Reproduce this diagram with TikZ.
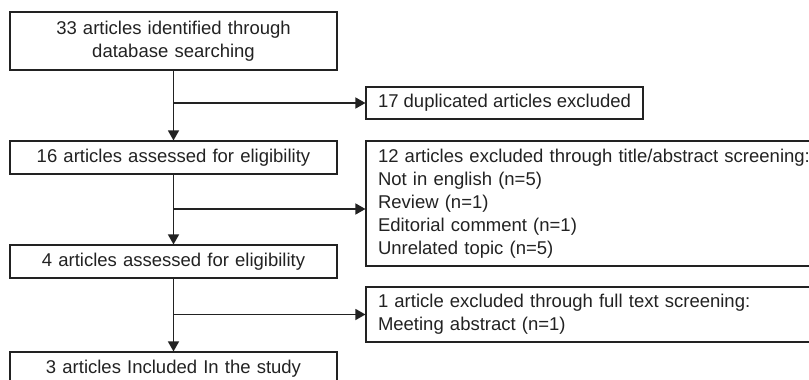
\documentclass[tikz,border=0pt]{standalone}
\usepackage{fontspec}
\setmainfont{Liberation Sans}
\usetikzlibrary{arrows.meta}
\definecolor{ink}{HTML}{222222}
\tikzset{
  flowbox/.style={draw=ink, line width=1.1pt, text=ink, inner xsep=12pt, inner ysep=2pt,
    font=\fontsize{18.5}{23}\selectfont},
  leftbox/.style={flowbox, minimum width=327pt, text width=303pt, align=center},
  rightbox/.style={flowbox, minimum width=470pt, text width=446pt, align=left},
  flowarrow/.style={draw=ink, line width=1.3pt, -{Triangle[length=10pt,width=11pt]}}
}
\begin{document}
\begin{tikzpicture}[x=1pt,y=-1pt]
\useasboundingbox (0,0) rectangle (809,380);
\node[leftbox, minimum height=58pt] (b1) at (173.5,41) {33 articles identified through\\database searching};
\node[flowbox, minimum width=277pt, minimum height=32pt, align=center] (dup) at (504.5,103) {17 duplicated articles excluded};
\node[leftbox, minimum height=33pt] (b2) at (173.5,157.5) {16 articles assessed for eligibility};
\node[rightbox, minimum height=125pt] (ex1) at (601,203.5) {12 articles excluded through title/abstract screening:\\Not in english (n=5)\\Review (n=1)\\Editorial comment (n=1)\\Unrelated topic (n=5)};
\node[leftbox, minimum height=33pt] (b3) at (173.5,261.5) {4 articles assessed for eligibility};
\node[rightbox, minimum height=55pt] (ex2) at (601,314.5) {1 article excluded through full text screening:\\Meeting abstract (n=1)};
\node[leftbox, minimum height=33pt] (b4) at (173.5,368.5) {3 articles Included In the study};
\coordinate (j1) at (173.5,103);
\coordinate (j2) at (173.5,209);
\coordinate (j3) at (173.5,314.5);
\draw[flowarrow] (b1) -- (b2);
\draw[flowarrow] (b2) -- (b3);
\draw[flowarrow] (b3) -- (b4);
\draw[flowarrow] (j1) -- (dup.west);
\draw[flowarrow] (j2) -- (ex1.west |- j2);
\draw[flowarrow] (j3) -- (ex2.west);
\end{tikzpicture}
\end{document}
